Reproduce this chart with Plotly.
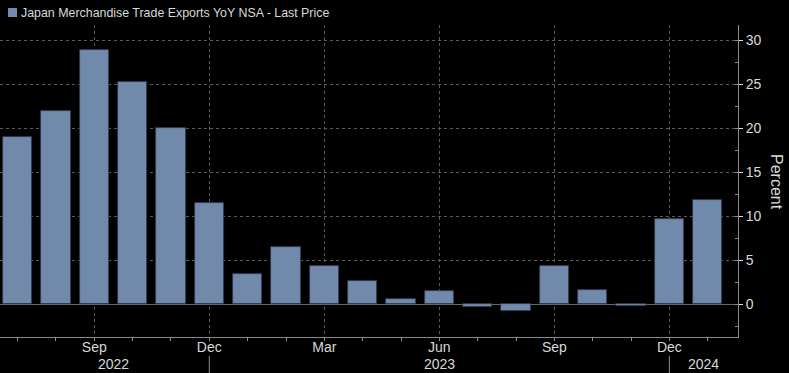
import plotly.graph_objects as go

months = ["Jul 2022", "Aug 2022", "Sep 2022", "Oct 2022", "Nov 2022", "Dec 2022",
          "Jan 2023", "Feb 2023", "Mar 2023", "Apr 2023", "May 2023", "Jun 2023",
          "Jul 2023", "Aug 2023", "Sep 2023", "Oct 2023", "Nov 2023", "Dec 2023",
          "Jan 2024"]
values = [19.0, 22.0, 28.9, 25.3, 20.0, 11.5,
          3.5, 6.5, 4.3, 2.6, 0.6, 1.5,
          -0.3, -0.8, 4.3, 1.6, -0.2, 9.7,
          11.9]
tick_idx = [2, 5, 8, 11, 14, 17]
tick_text = ["Sep", "Dec", "Mar", "Jun", "Sep", "Dec"]
year_labels = ["2022", "2023", "2024"]
year_pos = [2.5, 11.0, 17.9]
year_div = [5, 17]
y_ticks = [0, 5, 10, 15, 20, 25, 30]
series_name = "Japan Merchandise Trade Exports YoY NSA - Last Price"
y_title = "Percent"

W, H = 789, 373
ml, mr, mt, mb = 0, 51, 25, 36
pw, ph = W - ml - mr, H - mt - mb

def px_x(p):
    return (p - ml) / pw

def px_y(p):
    return (H - mb - p) / ph

BAR = "#7189ab"
TXT = "#d9d9d9"
AX = "#8c8c8c"
GRID = "#5a5a5a"
FONT = "Liberation Sans"

x = list(range(len(months)))

fig = go.Figure()
fig.add_trace(go.Bar(
    x=x, y=values, width=0.765,
    marker=dict(color=BAR, line=dict(color="#2c394b", width=0.8)),
    name=series_name, hovertext=months, showlegend=False,
))

fig.update_layout(
    width=W, height=H,
    margin=dict(l=ml, r=mr, t=mt, b=mb, pad=0, autoexpand=False),
    paper_bgcolor="black", plot_bgcolor="black",
    font=dict(family=FONT, color=TXT, size=14),
    bargap=0,
)
fig.update_xaxes(
    range=[-0.46, 18.79], automargin=False,
    tickmode="array", tickvals=tick_idx, ticktext=tick_text,
    ticks="", showline=True, linecolor=AX, linewidth=1,
    showgrid=True, gridcolor=GRID, griddash="dot", gridwidth=1,
    zeroline=False, ticklabelstandoff=-3,
    tickfont=dict(size=14, color=TXT),
    minor=dict(dtick=1, tick0=0, ticks="outside", ticklen=3, tickcolor=AX, showgrid=False),
)
fig.update_yaxes(
    side="right", range=[-3.72, 31.76], automargin=False,
    tickmode="array", tickvals=y_ticks,
    ticks="outside", ticklen=4, tickcolor="#e0e0e0",
    showline=True, linecolor=AX, linewidth=1,
    showgrid=True, gridcolor=GRID, griddash="dot", gridwidth=1,
    zeroline=True, zerolinecolor="#6a6a6a", zerolinewidth=1,
    tickfont=dict(size=14, color=TXT),
    minor=dict(dtick=2.5, tick0=0, ticks="inside", ticklen=3, tickcolor=AX, showgrid=False),
)

# legend key and text
fig.add_shape(type="rect", xref="paper", yref="paper",
              x0=px_x(8), x1=px_x(17), y0=px_y(17), y1=px_y(8),
              fillcolor=BAR, line=dict(width=0))
fig.add_annotation(xref="paper", yref="paper", x=px_x(19), y=px_y(13),
                   xanchor="left", yanchor="middle", showarrow=False,
                   text=series_name, font=dict(size=12.4, color=TXT, family=FONT))

# y axis title
fig.add_annotation(xref="paper", yref="paper", x=px_x(777), y=px_y(182),
                   xanchor="center", yanchor="middle", showarrow=False,
                   text=y_title, textangle=90, font=dict(size=16, color=TXT, family=FONT))

# year labels and dividers
for lab, pos in zip(year_labels, year_pos):
    fig.add_annotation(xref="x", yref="paper", x=pos, y=px_y(364),
                       xanchor="center", yanchor="middle", showarrow=False,
                       text=lab, font=dict(size=14, color=TXT, family=FONT))
for d in year_div:
    fig.add_shape(type="line", xref="x", yref="paper", x0=d, x1=d,
                  y0=px_y(356), y1=px_y(373), line=dict(color=AX, width=1))

fig.write_html("out.html", config={"displayModeBar": False},
               post_script="document.body.style.margin='0';document.body.style.overflow='hidden';")
